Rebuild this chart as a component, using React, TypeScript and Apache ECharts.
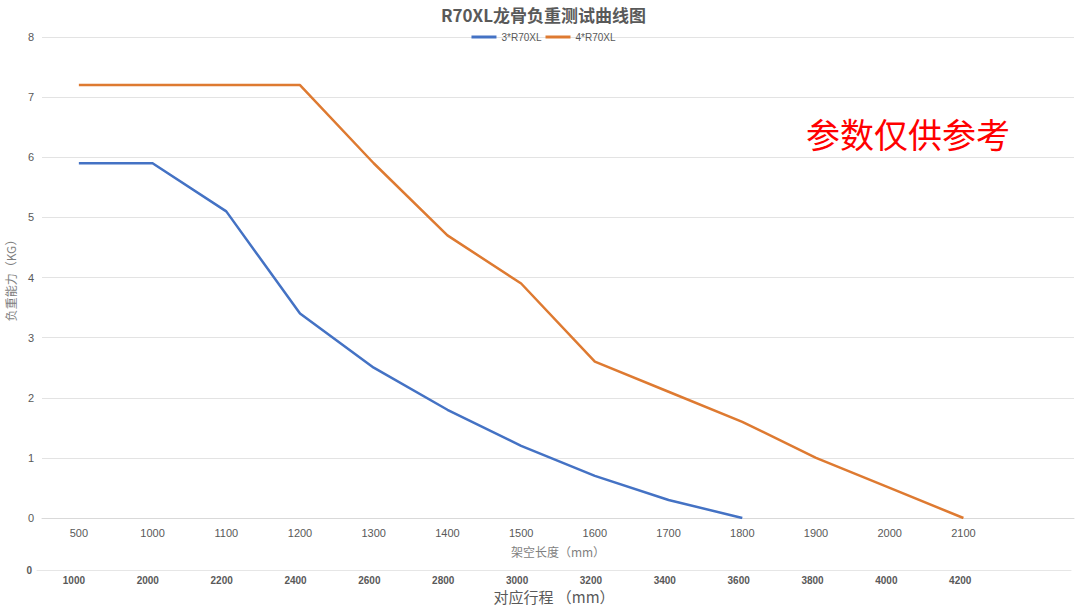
import React, { useEffect, useRef } from "react";
import * as echarts from "echarts";

const spanLabels = ["500", "1000", "1100", "1200", "1300", "1400", "1500", "1600", "1700", "1800", "1900", "2000", "2100", ""];
const strokeLabels = ["1000", "2000", "2200", "2400", "2600", "2800", "3000", "3200", "3400", "3600", "3800", "4000", "4200", ""];
const series3 = [5.9, 5.9, 5.1, 3.4, 2.5, 1.8, 1.2, 0.7, 0.3, 0, null, null, null, null];
const series4 = [7.2, 7.2, 7.2, 7.2, 5.9, 4.7, 3.9, 2.6, 2.1, 1.6, 1.0, 0.5, 0, null];
const seriesNames = ["3*R70XL", "4*R70XL"];
const titleText = "R70XL龙骨负重测试曲线图";
const noteText = "参数仅供参考";

const FONT = "'Noto Sans CJK SC', 'Liberation Sans', sans-serif";
const LATIN = "'Liberation Sans', Arial, sans-serif";

export default function App() {
  const ref = useRef<HTMLDivElement>(null);
  useEffect(() => {
    if (!ref.current) return;
    const chart = echarts.init(ref.current, null, { renderer: "svg" });
    chart.setOption({
      animation: false,
      backgroundColor: "#ffffff",
      textStyle: { fontFamily: FONT },
      title: {
        text: titleText,
        left: "center",
        top: 1,
        textStyle: { fontSize: 17, fontWeight: "bold", color: "#595959", fontFamily: FONT },
      },
      legend: {
        top: 27,
        left: "center",
        icon: "rect",
        itemWidth: 25,
        itemHeight: 3,
        itemGap: 4,
        textStyle: { fontSize: 10, color: "#595959", fontFamily: LATIN },
        data: seriesNames,
      },
      grid: [
        { left: 42, right: 13, top: 37, height: 481, outerBoundsMode: "none", containLabel: false },
        { left: 37, right: 16, top: 550, height: 20, outerBoundsMode: "none", containLabel: false },
      ],
      xAxis: [
        {
          type: "category",
          gridIndex: 0,
          data: spanLabels,
          boundaryGap: true,
          axisLine: { show: true, lineStyle: { color: "#d9d9d9" } },
          axisTick: { show: false },
          axisLabel: { color: "#595959", fontSize: 11, margin: 9, fontFamily: LATIN },
          name: "架空长度（mm）",
          nameLocation: "middle",
          nameGap: 27,
          nameTextStyle: { color: "#7f7f7f", fontSize: 12, fontFamily: FONT },
        },
        {
          type: "category",
          gridIndex: 1,
          data: strokeLabels,
          boundaryGap: true,
          axisLine: { show: true, lineStyle: { color: "#e6e6e6" } },
          axisTick: { show: false },
          axisLabel: { color: "#595959", fontSize: 10, fontWeight: "bold", margin: 5, fontFamily: LATIN },
          name: "对应行程 （mm）",
          nameLocation: "middle",
          nameGap: 19,
          nameTextStyle: { color: "#595959", fontSize: 15, fontFamily: FONT },
        },
      ],
      yAxis: [
        {
          type: "value",
          gridIndex: 0,
          min: 0,
          max: 8,
          interval: 1,
          axisLine: { show: false },
          axisTick: { show: false },
          splitLine: { lineStyle: { color: "#e3e3e3" } },
          axisLabel: { color: "#595959", fontSize: 11, margin: 8, fontFamily: LATIN },
          name: "负重能力（KG）",
          nameLocation: "middle",
          nameGap: 24,
          nameRotate: 90,
          nameTextStyle: { color: "#7f7f7f", fontSize: 12, fontFamily: FONT },
        },
        {
          type: "value",
          gridIndex: 1,
          min: 0,
          max: 1,
          interval: 1,
          axisLine: { show: false },
          axisTick: { show: false },
          splitLine: { show: false },
          axisLabel: {
            color: "#595959",
            fontSize: 10,
            fontWeight: "bold",
            margin: 5,
            fontFamily: LATIN,
            formatter: (v: number) => (v === 0 ? "0" : ""),
          },
        },
      ],
      series: [
        {
          name: seriesNames[0],
          type: "line",
          xAxisIndex: 0,
          yAxisIndex: 0,
          data: series3,
          symbol: "none",
          lineStyle: { width: 2.5, color: "#4472c4" },
          itemStyle: { color: "#4472c4" },
        },
        {
          name: seriesNames[1],
          type: "line",
          xAxisIndex: 0,
          yAxisIndex: 0,
          data: series4,
          symbol: "none",
          lineStyle: { width: 2.5, color: "#de7a31" },
          itemStyle: { color: "#de7a31" },
        },
      ],
      graphic: [
        {
          type: "text",
          left: 806,
          top: 116,
          style: { text: noteText, fill: "#ff0000", fontSize: 34, fontFamily: FONT },
        },
      ],
    });
    return () => chart.dispose();
  }, []);
  return <div ref={ref} style={{ position: "absolute", left: 0, top: 0, width: 1087, height: 614 }} />;
}
